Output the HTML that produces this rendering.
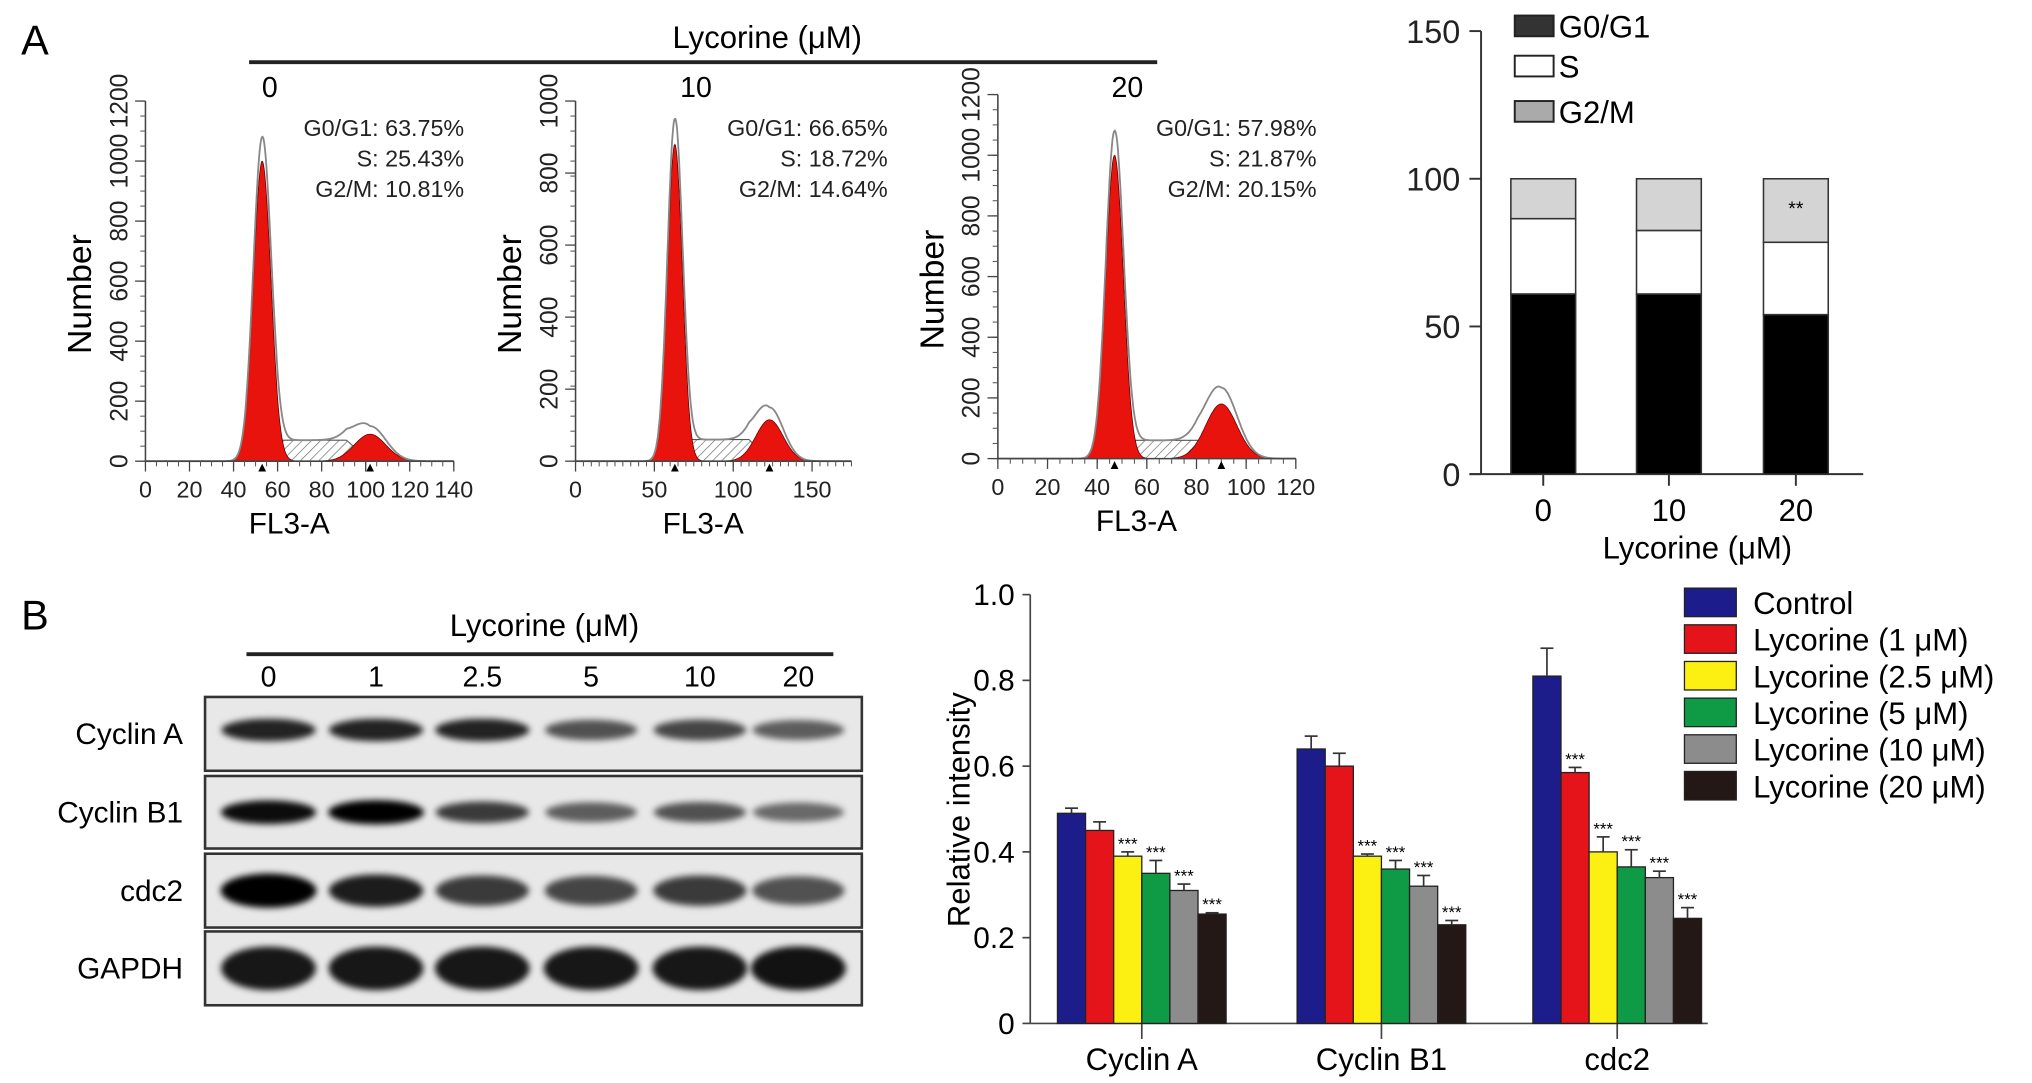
<!DOCTYPE html>
<html><head><meta charset="utf-8"><style>
html,body{margin:0;padding:0;background:#fff;}
svg{display:block;font-family:"Liberation Sans",sans-serif;}
</style></head><body>
<svg id="fig" width="2032" height="1083" viewBox="0 0 1568 836" xmlns="http://www.w3.org/2000/svg">
<defs>
<pattern id="hatch" patternUnits="userSpaceOnUse" width="5" height="5" patternTransform="rotate(45)"><line x1="0" y1="0" x2="0" y2="5" stroke="#666" stroke-width="1"/></pattern>
<filter id="blur" x="-30%" y="-60%" width="160%" height="220%"><feGaussianBlur stdDeviation="2.5"/></filter>
</defs>
<text x="16" y="42" font-size="32">A</text>
<text x="16" y="486" font-size="32">B</text>
<text x="592" y="37" font-size="24" text-anchor="middle">Lycorine (μM)</text>
<line x1="192" y1="48" x2="893" y2="48" stroke="#222" stroke-width="3"/>
<g id="hist"></g>
<g id="stack"></g>
<g id="blot"></g>
<g id="bars"></g>
</svg>
<script>
const NS='http://www.w3.org/2000/svg';
function mk(tag,attrs,parent,txt){const e=document.createElementNS(NS,tag);for(const k in attrs)e.setAttribute(k,attrs[k]);if(txt!==undefined)e.textContent=txt;parent.appendChild(e);return e;}

// ---------- Histogram data ----------
const histDoses=['0','10','20'];
const histG1Pos=[53,63,47];
const histG1Height=[1000,880,1000];
const histG2Pos=[102,123,90];
const histG2Height=[90,115,180];
const histSHeight=[70,60,60];
const histStats=[['G0/G1: 63.75%','S: 25.43%','G2/M: 10.81%'],['G0/G1: 66.65%','S: 18.72%','G2/M: 14.64%'],['G0/G1: 57.98%','S: 21.87%','G2/M: 20.15%']];
const histXTicks=[[0,20,40,60,80,100,120,140],[0,50,100,150],[0,20,40,60,80,100,120]];
const histXMax=[140,175,120];
const histYMax=[1200,1000,1200];
const histYTicks=[[0,200,400,600,800,1000,1200],[0,200,400,600,800,1000],[0,200,400,600,800,1000,1200]];
// layout
const hX0=[112,444,770], hX1=[350,657,1000], hBase=[356,356,354], hTop=[78,78,73], hDoseX=[208,537,870], hStatX=[358,685,1016];
const hist=document.getElementById('hist');
for(let p=0;p<3;p++){
  const g=mk('g',{},hist);
  
  
  const sx=v=>hX0[p]+(v/histXMax[p])*(hX1[p]-hX0[p]);
  const sy=v=>hBase[p]-(v/histYMax[p])*(hBase[p]-hTop[p]);
  const gw1=histG1Pos[p]*0.075, gw2=histG2Pos[p]*0.07;
  const gauss=(x,m,s,h)=>h*Math.exp(-0.5*((x-m)/s)**2);
  const sfun=x=>{const a=histG1Pos[p],b=histG2Pos[p];if(x<a||x>b)return 0;const e=Math.min(1,(x-a)/(gw1*1.5),(b-x)/(gw2*1.5));return histSHeight[p]*Math.max(0,e);};
  let red1='',red2='',sPath='',outline='';
  const step=histXMax[p]/400;
  const xs=[];for(let x=0;x<=histXMax[p];x+=step)xs.push(x);
  red1='M'+sx(xs[0])+','+sy(0);red2=red1;sPath=red1;
  xs.forEach(x=>{
    red1+=' L'+sx(x).toFixed(1)+','+sy(gauss(x,histG1Pos[p],gw1,histG1Height[p])).toFixed(1);
    red2+=' L'+sx(x).toFixed(1)+','+sy(gauss(x,histG2Pos[p],gw2,histG2Height[p])).toFixed(1);
    sPath+=' L'+sx(x).toFixed(1)+','+sy(sfun(x)).toFixed(1);
  });
  const end=' L'+sx(histXMax[p])+','+sy(0)+' Z';
  outline='M'+sx(0)+','+sy(0);
  xs.forEach(x=>{const v=gauss(x,histG1Pos[p],gw1,histG1Height[p]*1.08)+gauss(x,histG2Pos[p],gw2,histG2Height[p]*1.3)+sfun(x);outline+=' L'+sx(x).toFixed(1)+','+sy(v).toFixed(1);});
  const sp=mk('path',{d:sPath+end,fill:'url(#hatch)',stroke:'#555','stroke-width':0.8},g);
  
  const r1=mk('path',{d:red1+end,fill:'#e8130c',stroke:'#600','stroke-width':0.6},g);
  
  const r2=mk('path',{d:red2+end,fill:'#e8130c',stroke:'#600','stroke-width':0.6},g);
  
  const ol=mk('path',{d:outline,fill:'none',stroke:'#888','stroke-width':1.4},g);
  
  mk('line',{x1:hX0[p],y1:hTop[p],x2:hX0[p],y2:hBase[p],stroke:'#444','stroke-width':1.2},g);
  mk('line',{x1:hX0[p],y1:hBase[p],x2:hX1[p],y2:hBase[p],stroke:'#444','stroke-width':1.2},g);
  const yt=histYTicks[p];
  for(let v=0;v<=histYMax[p];v+=histYMax[p]/24){mk('line',{x1:hX0[p]-4,y1:sy(v),x2:hX0[p],y2:sy(v),stroke:'#555','stroke-width':0.8},g);}
  yt.forEach(v=>{const y=sy(v);mk('line',{x1:hX0[p]-8,y1:y,x2:hX0[p],y2:y,stroke:'#444','stroke-width':1},g);
    const t=mk('text',{x:hX0[p]-14,y:y,'font-size':19,'text-anchor':'middle',transform:'rotate(-90 '+(hX0[p]-14)+' '+y+')',fill:'#222'},g,String(v));
    });
  for(let v=0;v<=histXMax[p];v+=5){mk('line',{x1:sx(v),y1:hBase[p],x2:sx(v),y2:hBase[p]+4,stroke:'#555','stroke-width':0.8},g);}
  histXTicks[p].forEach(v=>{mk('line',{x1:sx(v),y1:hBase[p],x2:sx(v),y2:hBase[p]+8,stroke:'#444','stroke-width':1},g);
    const t=mk('text',{x:sx(v),y:hBase[p]+28,'font-size':18,'text-anchor':'middle',fill:'#222'},g,String(v));
    });
  [histG1Pos[p],histG2Pos[p]].forEach(v=>mk('path',{d:'M'+(sx(v)-3)+','+(hBase[p]+8)+' L'+(sx(v)+3)+','+(hBase[p]+8)+' L'+sx(v)+','+(hBase[p]+2)+' Z',fill:'#000'},g));
  const xl=mk('text',{x:(hX0[p]+hX1[p])/2-8,y:hBase[p]+56,'font-size':23,'text-anchor':'middle'},g,'FL3-A');
  
  const yc=(hTop[p]+hBase[p])/2+10;
  const yl=mk('text',{x:hX0[p]-42,y:yc,'font-size':26,'text-anchor':'middle',transform:'rotate(-90 '+(hX0[p]-42)+' '+yc+')'},g,'Number');
  
  const dl=mk('text',{x:hDoseX[p],y:75,'font-size':22,'text-anchor':'middle'},g,histDoses[p]);
  
  histStats[p].forEach((s,i)=>{const t=mk('text',{x:hStatX[p],y:105+i*23.5,'font-size':18,'text-anchor':'end',fill:'#222'},g,s);
    });
}

// ---------- Stacked bar ----------
const stackCats=['0','10','20'];
const stackG1=[61,61,54];
const stackS=[25.5,21.5,24.5];
const stackG2=[13.5,17.5,21.5];
const stackYTicks=[0,50,100,150];
const st=document.getElementById('stack');
const SX0=1143, SY0=366, SYT=24, SXE=1438;
const ssy=v=>SY0-v/150*(SY0-SYT);
const sCenters=[1191,1288,1386], sBW=50;
mk('line',{x1:SX0,y1:SYT,x2:SX0,y2:SY0,stroke:'#333','stroke-width':1.5},st);
mk('line',{x1:SX0-9,y1:SY0,x2:SXE,y2:SY0,stroke:'#333','stroke-width':1.5},st);
stackYTicks.forEach(v=>{mk('line',{x1:SX0-9,y1:ssy(v),x2:SX0,y2:ssy(v),stroke:'#333','stroke-width':1.5},st);
  const t=mk('text',{x:SX0-16,y:ssy(v)+9,'font-size':25,'text-anchor':'end',fill:'#222'},st,String(v));
  });
stackCats.forEach((c,i)=>{
  const x=sCenters[i]-sBW/2;
  const parts=[[0,stackG1[i],'#000'],[stackG1[i],stackS[i],'#fff'],[stackG1[i]+stackS[i],stackG2[i],'#d4d4d4']];
  const names=['g0g1','s','g2m'];
  parts.forEach((pt,j)=>{const r=mk('rect',{x:x,y:ssy(pt[0]+pt[1]),width:sBW,height:ssy(pt[0])-ssy(pt[0]+pt[1]),fill:pt[2],stroke:'#333','stroke-width':1.2},st);
    });
  mk('line',{x1:sCenters[i],y1:SY0,x2:sCenters[i],y2:SY0+9,stroke:'#333','stroke-width':1.5},st);
  const t=mk('text',{x:sCenters[i],y:SY0+36,'font-size':24,'text-anchor':'middle'},st,c);
  
});
const sig=mk('text',{x:sCenters[2],y:ssy(stackG1[2]+stackS[2]+stackG2[2]*0.55)+6,'font-size':15,'text-anchor':'middle'},st,'**');

const sxt=mk('text',{x:1310,y:431,'font-size':24,'text-anchor':'middle'},st,'Lycorine (μM)');

[['G0/G1','#333',20],['S','#fff',51],['G2/M','#aaa',86]].forEach(l=>{
  const g=mk('g',{},st);
  mk('rect',{x:1169,y:l[2]-8,width:30,height:16,fill:l[1],stroke:'#222','stroke-width':1.5},g);
  mk('text',{x:1203,y:l[2]+9,'font-size':24},g,l[0]);
});

// ---------- Western blot ----------
const blotDoses=['0','1','2.5','5','10','20'];
const blotProteins=['Cyclin A','Cyclin B1','cdc2','GAPDH'];
const blotIntensity=[[0.85,0.85,0.85,0.65,0.7,0.6],[0.95,1,0.75,0.6,0.65,0.55],[1,0.88,0.75,0.7,0.75,0.65],[0.9,0.9,0.9,0.9,0.9,0.92]];
const bl=document.getElementById('blot');
const lanes=[207,290,372,456,540,616];
const boxY=[538,599,659,719], boxH=[57,56,57,57];
const bt=mk('text',{x:420,y:491,'font-size':24,'text-anchor':'middle'},bl,'Lycorine (μM)');

mk('line',{x1:190,y1:505,x2:643,y2:505,stroke:'#222','stroke-width':3},bl);
blotDoses.forEach((d,i)=>{const t=mk('text',{x:lanes[i],y:530,'font-size':22,'text-anchor':'middle'},bl,d);
  });
blotProteins.forEach((pname,r)=>{
  const g=mk('g',{},bl);
  mk('rect',{x:158,y:boxY[r],width:507,height:boxH[r],fill:'#e8e8e8',stroke:'#333','stroke-width':2},g);
  const cy=boxY[r]+boxH[r]/2+ (r===0?-3:0);
  blotIntensity[r].forEach((v,i)=>{
    const h=(r===3?32:(r===2?24:17))*(0.6+0.5*v), w=66+8*v;
    const e=mk('ellipse',{cx:lanes[i],cy:cy,rx:w/2,ry:h/2,fill:'#000','fill-opacity':v,filter:'url(#blur)'},g);
    
  });
  mk('text',{x:141,y:boxY[r]+boxH[r]/2+8,'font-size':23,'text-anchor':'end'},g,pname);
});

// ---------- Relative intensity bar chart ----------
const barGroups=['Cyclin A','Cyclin B1','cdc2'];
const barSeries=['Control','Lycorine (1 μM)','Lycorine (2.5 μM)','Lycorine (5 μM)','Lycorine (10 μM)','Lycorine (20 μM)'];
const barColors=['#1c1c8a','#e5141a','#fcf012','#0f9b45','#8c8c8c','#231815'];
const barValues=[[0.49,0.45,0.39,0.35,0.31,0.255],[0.64,0.60,0.39,0.36,0.32,0.23],[0.81,0.585,0.40,0.365,0.34,0.245]];
const barErrors=[[0.012,0.02,0.01,0.03,0.015,0.003],[0.03,0.03,0.005,0.02,0.025,0.01],[0.065,0.012,0.035,0.04,0.015,0.025]];
const barSig=[[0,0,1,1,1,1],[0,0,1,1,1,1],[0,1,1,1,1,1]];
const barYTicks=[0,0.2,0.4,0.6,0.8,1.0];
const bc=document.getElementById('bars');
const BX0=795, BY0=790, BYT=459, BXE=1318;
const by=v=>BY0-v*(BY0-BYT);
const groupStart=[816,1001,1183], BW=21.7;
mk('line',{x1:BX0,y1:BYT,x2:BX0,y2:BY0,stroke:'#444','stroke-width':1.3},bc);
mk('line',{x1:BX0,y1:BY0,x2:BXE,y2:BY0,stroke:'#444','stroke-width':1.3},bc);
barYTicks.forEach(v=>{mk('line',{x1:BX0-6,y1:by(v),x2:BX0,y2:by(v),stroke:'#444','stroke-width':1.3},bc);
  const t=mk('text',{x:BX0-12,y:by(v)+8,'font-size':23,'text-anchor':'end'},bc,v===0?'0':v.toFixed(1));
  });
const ylab=mk('text',{x:748,y:625,'font-size':24,'text-anchor':'middle',transform:'rotate(-90 748 625)'},bc,'Relative intensity');

barGroups.forEach((gname,gi)=>{
  const cx=groupStart[gi]+BW*3;
  mk('line',{x1:cx,y1:BY0,x2:cx,y2:BY0+12,stroke:'#444','stroke-width':1.3},bc);
  const t=mk('text',{x:cx,y:826,'font-size':24,'text-anchor':'middle'},bc,gname);
  
  barSeries.forEach((s,si)=>{
    const x=groupStart[gi]+si*BW, v=barValues[gi][si], e=barErrors[gi][si];
    const r=mk('rect',{x:x,y:by(v),width:BW,height:BY0-by(v),fill:barColors[si],stroke:'#222','stroke-width':1},bc);
    
    
    const mx=x+BW/2;
    mk('line',{x1:mx,y1:by(v),x2:mx,y2:by(v+e),stroke:'#333','stroke-width':1.3},bc);
    mk('line',{x1:mx-5,y1:by(v+e),x2:mx+5,y2:by(v+e),stroke:'#333','stroke-width':1.3},bc);
    if(barSig[gi][si]){const st2=mk('text',{x:mx,y:by(v+e)-2,'font-size':13,'text-anchor':'middle'},bc,'***');
      }
  });
});
barSeries.forEach((s,si)=>{
  const g=mk('g',{},bc);
  
  
  const y=465+si*28.3;
  mk('rect',{x:1300,y:y-11,width:40,height:22,fill:barColors[si],stroke:'#222','stroke-width':1},g);
  mk('text',{x:1353,y:y+9,'font-size':24},g,s);
});
</script>
</body></html>
